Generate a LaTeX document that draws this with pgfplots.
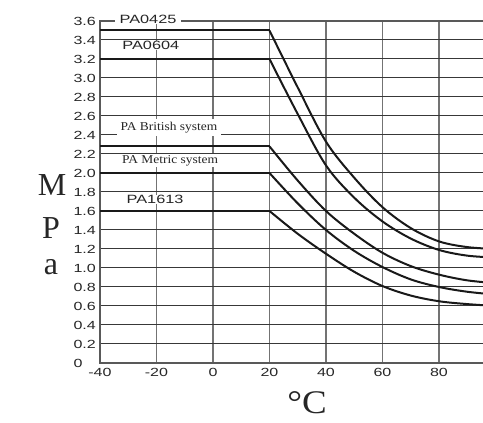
\documentclass[border=0pt]{standalone}
\usepackage{fontspec}
\setmainfont{Liberation Sans}
\newfontfamily\wide[FakeStretch=1.36]{Liberation Sans}
\newfontfamily\serif{Liberation Serif}
\newfontfamily\serifwide[FakeStretch=1.12]{Liberation Serif}
\usepackage{pgfplots}
\pgfplotsset{compat=1.18}
\begin{document}
\begin{tikzpicture}[x=1pt,y=1pt]
\begin{axis}[
  at={(100pt,60pt)}, anchor=south west,
  scale only axis, width=395.5pt, height=342pt,
  xmin=-40, xmax=100, ymin=0, ymax=3.6,
  xtick={-40,-20,0,20,40,60,80,100},
  xticklabels={-40,-20,0,20,40,60,80,100},
  ytick={0,0.2,0.4,0.6,0.8,1.0,1.2,1.4,1.6,1.8,2.0,2.2,2.4,2.6,2.8,3.0,3.2,3.4,3.6},
  yticklabels={0,0.2,0.4,0.6,0.8,1.0,1.2,1.4,1.6,1.8,2.0,2.2,2.4,2.6,2.8,3.0,3.2,3.4,3.6},
  /pgf/number format/assume math mode=true,
  ticklabel style={font=\wide\fontsize{11.8}{12}\selectfont, text=black!85},
  major tick length=0pt,
  xticklabel style={yshift=-2pt},
  yticklabel style={anchor=west, xshift=-30pt},
  grid=major,
  x grid style={line width=1.2pt, color=black!55},
  y grid style={line width=1pt, color=black!78},
  axis line style={line width=1.2pt, color=black!65},
  clip=false,
]
\addplot[line width=2pt, black!90] coordinates {(-40,3.5) (20,3.5)};
\addplot[line width=2pt, black!90, smooth, tension=0.55] coordinates {
 (20,3.5) (30,2.9) (40,2.33) (50,1.95) (60,1.64) (70,1.42) (80,1.28) (90,1.22) (100,1.20)};
\addplot[line width=2pt, black!90] coordinates {(-40,3.2) (20,3.2)};
\addplot[line width=2pt, black!90, smooth, tension=0.55] coordinates {
 (20,3.2) (30,2.62) (40,2.08) (50,1.74) (60,1.49) (70,1.31) (80,1.19) (90,1.13) (100,1.11)};
\addplot[line width=2pt, black!90] coordinates {(-40,2.28) (20,2.28)};
\addplot[line width=2pt, black!90, smooth, tension=0.55] coordinates {
 (20,2.28) (30,1.92) (40,1.6) (50,1.36) (60,1.16) (70,1.02) (80,0.93) (90,0.87) (100,0.84)};
\addplot[line width=2pt, black!90] coordinates {(-40,2.0) (20,2.0)};
\addplot[line width=2pt, black!90, smooth, tension=0.55] coordinates {
 (20,2.0) (30,1.68) (40,1.4) (50,1.18) (60,1.01) (70,0.88) (80,0.80) (90,0.75) (100,0.72)};
\addplot[line width=2pt, black!90] coordinates {(-40,1.6) (20,1.6)};
\addplot[line width=2pt, black!90, smooth, tension=0.55] coordinates {
 (20,1.6) (30,1.36) (40,1.15) (50,0.96) (60,0.81) (70,0.71) (80,0.65) (90,0.62) (100,0.60)};
\node[fill=white, inner xsep=5pt, inner ysep=0.5pt, font=\wide\fontsize{12}{12}\selectfont, text=black!85] at (axis cs:-23,3.62) {PA0425};
\node[fill=white, inner xsep=5pt, inner ysep=0.5pt, font=\wide\fontsize{12}{12}\selectfont, text=black!85] at (axis cs:-22,3.34) {PA0604};
\node[fill=white, inner xsep=4pt, inner ysep=3pt, font=\serifwide\fontsize{12}{12}\selectfont, text=black!85] at (axis cs:-15.6,2.48) {PA British system};
\node[fill=white, inner xsep=4pt, inner ysep=1.5pt, font=\serifwide\fontsize{12}{12}\selectfont, text=black!85] at (axis cs:-15.2,2.13) {PA Metric system};
\node[fill=white, inner xsep=6pt, inner ysep=0.5pt, font=\wide\fontsize{12}{12}\selectfont, text=black!85] at (axis cs:-20.5,1.72) {PA1613};
\end{axis}
\node[font=\serif\fontsize{32}{32}\selectfont, text=black!85] at (52pt,238pt) {M};
\node[font=\serif\fontsize{32}{32}\selectfont, text=black!85] at (51pt,195pt) {P};
\node[font=\serif\fontsize{32}{32}\selectfont, text=black!85] at (51pt,156pt) {a};
\node[font=\serifwide\fontsize{33}{33}\selectfont, text=black!85] at (307pt,20pt) {°C};
\pgfresetboundingbox
\useasboundingbox (0,0) rectangle (483pt,423pt);
\end{tikzpicture}
\end{document}
